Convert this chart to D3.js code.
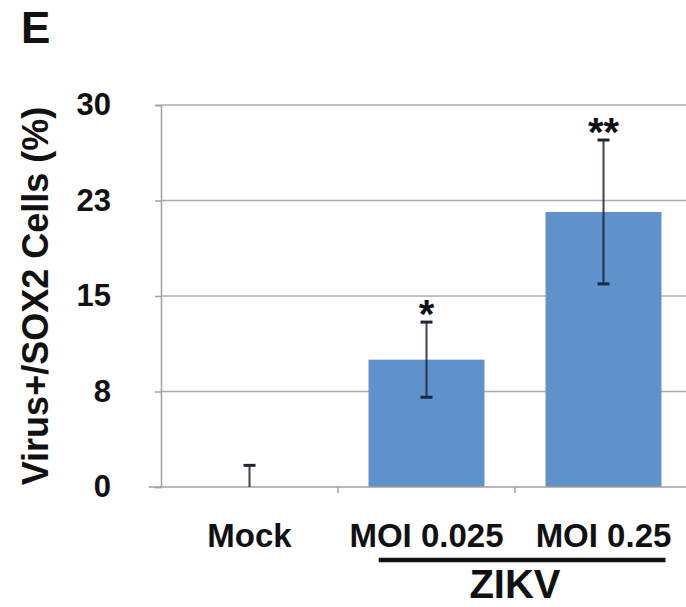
<!DOCTYPE html>
<html>
<head>
<meta charset="utf-8">
<script src="https://cdn.jsdelivr.net/npm/d3@7"></script>
<style>
  body { margin: 0; background: #fff; }
  svg { display: block; font-family: "Liberation Sans", Arial, sans-serif; font-weight: bold; }
</style>
</head>
<body>
<div id="chart"></div>
<script>
var categories = ["Mock", "MOI 0.025", "MOI 0.25"];
var means      = [0, 10.0, 21.6];
var errors     = [1.7, 2.95, 5.65];
var stars      = ["", "*", "**"];
var tickValues = [0, 7.5, 15, 22.5, 30];
var tickLabels = ["0", "8", "15", "23", "30"];
var groupLabel = "ZIKV";
var groupCats  = ["MOI 0.025", "MOI 0.25"];

var W = 686, H = 607;
// note: "top" is taken by window.top, so use plot* names
var plotLeft = 161, plotRight = 692, plotTop = 105, plotBottom = 487;

var svg = d3.select("#chart")
  .append("svg")
    .attr("width", W)
    .attr("height", H);

var x = d3.scaleBand()
  .domain(categories)
  .range([plotLeft, plotRight])
  .padding(0);

var y = d3.scaleLinear()
  .domain([0, 30])
  .range([plotBottom, plotTop]);

var barW = x.bandwidth() * 0.655;

// gridlines
svg.append("g")
  .selectAll("line")
  .data(tickValues.slice(1))
  .join("line")
    .attr("x1", plotLeft)
    .attr("x2", W)
    .attr("y1", (d) => y(d))
    .attr("y2", (d) => y(d))
    .attr("stroke", "#ababab")
    .attr("stroke-width", 1.5);

// y axis
var yAxis = svg.append("g")
  .attr("transform", "translate(" + plotLeft + ",0)")
  .call(d3.axisLeft(y)
    .tickValues(tickValues)
    .tickFormat((d, i) => tickLabels[i])
    .tickSize(6)
    .tickPadding(44));
yAxis.attr("font-family", null).attr("font-size", null);
yAxis.select(".domain").attr("stroke", "#a0a0a0").attr("stroke-width", 1.5);
yAxis.selectAll(".tick line").attr("stroke", "#a0a0a0").attr("stroke-width", 1.5);
yAxis.selectAll(".tick text")
  .attr("font-size", 31)
  .attr("fill", "#111");

// bars
svg.append("g")
  .selectAll("rect")
  .data(means)
  .join("rect")
    .attr("x", (d, i) => x(categories[i]) + x.bandwidth() / 2 - barW / 2)
    .attr("y", (d) => y(d))
    .attr("width", barW)
    .attr("height", (d) => y(0) - y(d))
    .attr("fill", "#5f91ca");

// x axis
var xAxis = svg.append("g")
  .attr("transform", "translate(0," + plotBottom + ")");
xAxis.append("line")
  .attr("x1", plotLeft - 12)
  .attr("x2", W)
  .attr("stroke", "#a0a0a0")
  .attr("stroke-width", 1.5);
xAxis.selectAll("line.tk")
  .data(categories.slice(1))
  .join("line")
    .attr("class", "tk")
    .attr("x1", (d) => x(d))
    .attr("x2", (d) => x(d))
    .attr("y1", 0)
    .attr("y2", 6)
    .attr("stroke", "#a0a0a0")
    .attr("stroke-width", 1.5);
xAxis.selectAll("text")
  .data(categories)
  .join("text")
    .attr("x", (d) => x(d) + x.bandwidth() / 2)
    .attr("y", 60)
    .attr("text-anchor", "middle")
    .attr("font-size", 33)
    .attr("fill", "#111")
    .text((d) => d);

// error bars
var eb = svg.append("g");
means.forEach((m, i) => {
  var cx = x(categories[i]) + x.bandwidth() / 2;
  var hi = y(m + errors[i]);
  var lo = y(Math.max(0, m - errors[i]));
  eb.append("line")
    .attr("x1", cx).attr("x2", cx)
    .attr("y1", hi).attr("y2", lo)
    .attr("stroke", "#1b2430")
    .attr("stroke-opacity", 0.85)
    .attr("stroke-width", 2);
  eb.append("line")
    .attr("x1", cx - 6).attr("x2", cx + 6)
    .attr("y1", hi).attr("y2", hi)
    .attr("stroke", "#1b2430")
    .attr("stroke-width", 3);
  if (m - errors[i] > 0) {
    eb.append("line")
      .attr("x1", cx - 6).attr("x2", cx + 6)
      .attr("y1", lo).attr("y2", lo)
      .attr("stroke", "#1b2a44")
      .attr("stroke-width", 3);
  }
  if (stars[i]) {
    eb.append("text")
      .attr("x", cx)
      .attr("y", hi + 6)
      .attr("text-anchor", "middle")
      .attr("font-size", 40)
      .attr("fill", "#111")
      .text(stars[i]);
  }
});

// group bracket
var gx1 = x(groupCats[0]) + x.bandwidth() * 0.23;
var gx2 = x(groupCats[1]) + x.bandwidth() * 0.85;
svg.append("line")
  .attr("x1", gx1).attr("x2", gx2)
  .attr("y1", 560).attr("y2", 560)
  .attr("stroke", "#111")
  .attr("stroke-width", 4.5);
svg.append("text")
  .attr("x", (x(groupCats[0]) + x(groupCats[1]) + x.bandwidth()) / 2)
  .attr("y", 598)
  .attr("text-anchor", "middle")
  .attr("font-size", 40)
  .attr("fill", "#111")
  .text(groupLabel);

// y title
svg.append("text")
  .attr("transform", "translate(48," + (plotTop + plotBottom) / 2 + ") rotate(-90)")
  .attr("text-anchor", "middle")
  .attr("font-size", 36)
  .attr("fill", "#111")
  .text("Virus+/SOX2 Cells (%)");

// panel letter
svg.append("text")
  .attr("x", 21)
  .attr("y", 43)
  .attr("font-size", 44)
  .attr("fill", "#111")
  .text("E");
</script>
</body>
</html>
